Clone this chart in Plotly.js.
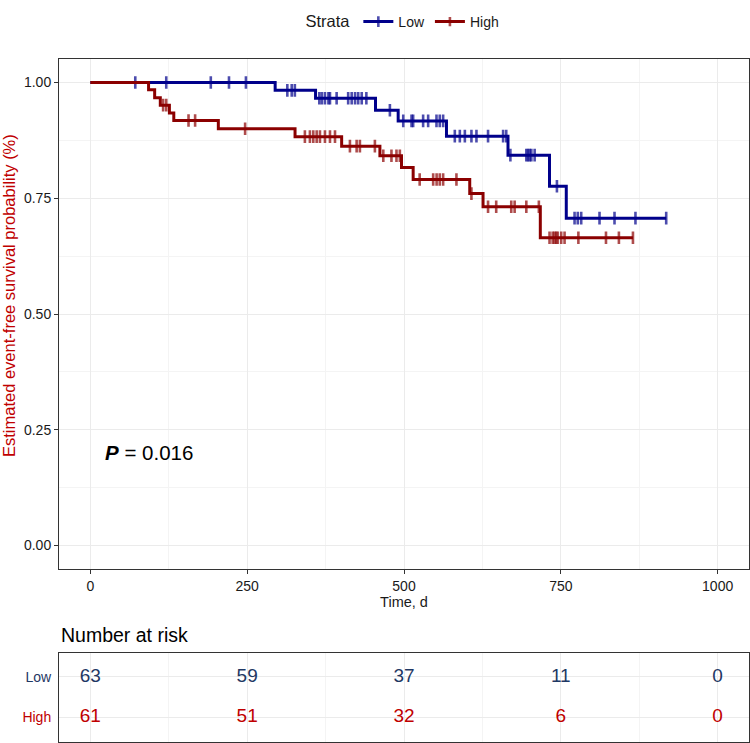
<!DOCTYPE html>
<html>
<head>
<meta charset="utf-8">
<script src="https://cdn.plot.ly/plotly-3.0.1.min.js"></script>
<style>html,body{margin:0;padding:0;background:#fff;}#chart{width:750px;height:743px;}</style>
</head>
<body>
<div id="chart"></div>
<script>
// ---- Data ----
const lowTime = [0, 71.6, 121, 192, 221, 248, 294.6, 314, 321, 326, 359, 365, 369, 374, 379.5, 382, 392.6, 411, 416.6, 422, 427, 432.6, 440, 454.6, 477.5, 490.7, 498.8, 512, 514.6, 530.5, 538.5, 551.8, 557, 562.4, 567.7, 581, 589, 597, 607.5, 615.5, 634, 658, 663, 665.8, 669.6, 695, 697.7, 700.3, 703, 708.3, 732, 743.8, 758.7, 771.9, 777, 782.5, 811.7, 835.6, 869, 918];
const lowSurv = [1, 1, 1, 1, 1, 1, 0.983, 0.983, 0.983, 0.983, 0.966, 0.966, 0.966, 0.966, 0.966, 0.966, 0.966, 0.966, 0.966, 0.966, 0.966, 0.966, 0.966, 0.940, 0.940, 0.917, 0.917, 0.917, 0.917, 0.917, 0.917, 0.917, 0.917, 0.917, 0.884, 0.884, 0.884, 0.884, 0.884, 0.884, 0.884, 0.884, 0.884, 0.843, 0.843, 0.843, 0.843, 0.843, 0.843, 0.843, 0.776, 0.776, 0.707, 0.707, 0.707, 0.707, 0.707, 0.707, 0.707, 0.707];
const lowCensor = [0, 1, 1, 1, 1, 1, 0, 1, 1, 1, 0, 1, 1, 1, 1, 1, 1, 1, 1, 1, 1, 1, 1, 0, 1, 0, 1, 1, 1, 1, 1, 1, 1, 1, 0, 1, 1, 1, 1, 1, 1, 1, 1, 0, 1, 1, 1, 1, 1, 1, 0, 1, 0, 1, 1, 1, 1, 1, 1, 1];

const highTime = [0, 92.8, 102.5, 111.5, 116, 121, 126, 133, 156.5, 167, 204, 246.7, 326.3, 342, 350, 355.4, 360.8, 366, 374, 382, 390, 400.6, 413.8, 424.5, 429.7, 453.6, 461.6, 467, 480, 488, 493.4, 496, 514.6, 525, 546.5, 552, 557, 562.4, 583.6, 604.8, 607.5, 626, 634, 647, 671, 676.4, 695, 715, 717.3, 732, 737, 740, 742.6, 745, 750.6, 756, 778, 822, 842.6, 865];
const highSurv = [1, 0.984, 0.967, 0.951, 0.951, 0.951, 0.934, 0.918, 0.918, 0.918, 0.900, 0.900, 0.883, 0.883, 0.883, 0.883, 0.883, 0.883, 0.883, 0.883, 0.883, 0.8625, 0.8625, 0.8625, 0.8625, 0.8625, 0.8416, 0.8416, 0.8416, 0.8416, 0.8416, 0.8165, 0.7906, 0.7906, 0.7906, 0.7906, 0.7906, 0.7906, 0.7906, 0.760, 0.760, 0.7315, 0.7315, 0.7315, 0.7315, 0.7315, 0.7315, 0.7315, 0.6647, 0.6647, 0.6647, 0.6647, 0.6647, 0.6647, 0.6647, 0.6647, 0.6647, 0.6647, 0.6647, 0.6647];
const highCensor = [0, 0, 0, 0, 1, 1, 0, 0, 1, 1, 0, 1, 0, 1, 1, 1, 1, 1, 1, 1, 1, 0, 1, 1, 1, 1, 0, 1, 1, 1, 1, 0, 0, 1, 1, 1, 1, 1, 1, 0, 1, 0, 1, 1, 1, 1, 1, 1, 0, 1, 1, 1, 1, 1, 1, 1, 1, 1, 1, 1];

const strata = ['Low', 'High'];
const riskTimes = [0, 250, 500, 750, 1000];
const riskLow = [63, 59, 37, 11, 0];
const riskHigh = [61, 51, 32, 6, 0];
const xTicks = [0, 250, 500, 750, 1000];
const yTicks = [0, 0.25, 0.5, 0.75, 1];
const yTickText = ['0.00', '0.25', '0.50', '0.75', '1.00'];
const yTitle = 'Estimated event-free survival probability (%)';
const xTitle = 'Time, d';
const pText = '<b><i>P</i></b> = 0.016';
const riskTitle = 'Number at risk';

// ---- Styles ----
const FONT = 'Liberation Sans, Arial, Helvetica, sans-serif';
const lowLine = '#00008B', highLine = '#8B0000';
const lowText = '#1F3864', highText = '#C00000';
const W = 750, H = 743, ML = 59, MR = 1;
const px2y = p => 1 - p / H;
const px2x = p => (p - ML) / (W - ML - MR);

function kmTrace(name, t, s, c, color) {
  return {
    type: 'scatter', mode: 'lines+markers', name: name,
    x: t, y: s, xaxis: 'x', yaxis: 'y',
    line: {shape: 'hv', color: color, width: 3},
    marker: {symbol: 'line-ns-open', size: c.map(v => v ? 9 : 0), color: color,
             line: {color: color, width: 2.6}},
    hoverinfo: 'x+y'
  };
}

const traces = [
  kmTrace(strata[0], lowTime, lowSurv, lowCensor, lowLine),
  kmTrace(strata[1], highTime, highSurv, highCensor, highLine),
  {type: 'scatter', mode: 'text', x: riskTimes, y: riskTimes.map(() => strata[0]),
   text: riskLow.map(String), textfont: {family: FONT, size: 19, color: lowText},
   xaxis: 'x2', yaxis: 'y2', showlegend: false, hoverinfo: 'skip'},
  {type: 'scatter', mode: 'text', x: riskTimes, y: riskTimes.map(() => strata[1]),
   text: riskHigh.map(String), textfont: {family: FONT, size: 19, color: highText},
   xaxis: 'x2', yaxis: 'y2', showlegend: false, hoverinfo: 'skip'}
];

const gridCommon = {
  showgrid: true, gridcolor: '#EBEBEB', gridwidth: 1,
  zeroline: false, showline: true, mirror: true, linecolor: '#333333', linewidth: 1
};

const layout = {
  width: W, height: H,
  margin: {l: ML, r: MR, t: 0, b: 0},
  paper_bgcolor: '#ffffff', plot_bgcolor: '#ffffff',
  font: {family: FONT, color: '#1a1a1a'},
  showlegend: true,
  legend: {
    orientation: 'h', x: px2x(404), xanchor: 'center', y: px2y(22), yanchor: 'middle',
    title: {text: 'Strata', font: {family: FONT, size: 16.5, color: '#1a1a1a'}},
    font: {family: FONT, size: 14, color: '#1a1a1a'},
    bgcolor: 'rgba(0,0,0,0)'
  },
  xaxis: Object.assign({}, gridCommon, {
    anchor: 'y', range: [-50, 1050], tickmode: 'array', tickvals: xTicks,
    ticks: 'outside', ticklen: 4, tickcolor: '#333333', tickwidth: 1,
    tickfont: {family: FONT, size: 14, color: '#1a1a1a'},
    minor: {dtick: 125, tick0: 0, showgrid: true, gridcolor: '#F4F4F4', gridwidth: 1},
    title: {text: xTitle, font: {family: FONT, size: 14.5, color: '#1a1a1a'}, standoff: 4}
  }),
  yaxis: Object.assign({}, gridCommon, {
    anchor: 'x', domain: [px2y(568.7), px2y(59.3)], range: [-0.05, 1.05],
    tickmode: 'array', tickvals: yTicks, ticktext: yTickText,
    ticks: 'outside', ticklen: 4, tickcolor: '#333333', tickwidth: 1,
    tickfont: {family: FONT, size: 14, color: '#1a1a1a'},
    minor: {dtick: 0.125, tick0: 0, showgrid: true, gridcolor: '#F4F4F4', gridwidth: 1}
  }),
  xaxis2: Object.assign({}, gridCommon, {
    anchor: 'y2', range: [-50, 1050], tickmode: 'array', tickvals: xTicks,
    showticklabels: false, ticks: '',
    minor: {dtick: 125, tick0: 0, showgrid: true, gridcolor: '#F4F4F4', gridwidth: 1}
  }),
  yaxis2: Object.assign({}, gridCommon, {
    anchor: 'x2', domain: [px2y(741.7), px2y(652.7)], type: 'category',
    categoryorder: 'array', categoryarray: [strata[1], strata[0]], range: [-0.6, 1.6],
    tickmode: 'array', tickvals: [strata[0], strata[1]],
    ticktext: ['<span style="color:' + lowText + '">' + strata[0] + '</span>',
               '<span style="color:' + highText + '">' + strata[1] + '</span>'],
    ticks: 'outside', ticklen: 4, tickcolor: 'rgba(0,0,0,0)',
    tickfont: {family: FONT, size: 14}
  }),
  annotations: [
    {text: yTitle, xref: 'paper', yref: 'paper', x: px2x(9), y: px2y(296),
     xanchor: 'center', yanchor: 'middle', textangle: -90, showarrow: false,
     font: {family: FONT, size: 16.5, color: '#C00000'}},
    {text: pText, xref: 'x', yref: 'y', x: 20, y: 0.2, xanchor: 'left', yanchor: 'middle',
     showarrow: false, font: {family: FONT, size: 20.5, color: '#000000'}},
    {text: riskTitle, xref: 'paper', yref: 'paper', x: 0, y: px2y(635),
     xanchor: 'left', yanchor: 'middle', showarrow: false,
     font: {family: FONT, size: 19.5, color: '#000000'}}
  ]
};

Plotly.newPlot('chart', traces, layout, {displayModeBar: false, staticPlot: true});
</script>
</body>
</html>
